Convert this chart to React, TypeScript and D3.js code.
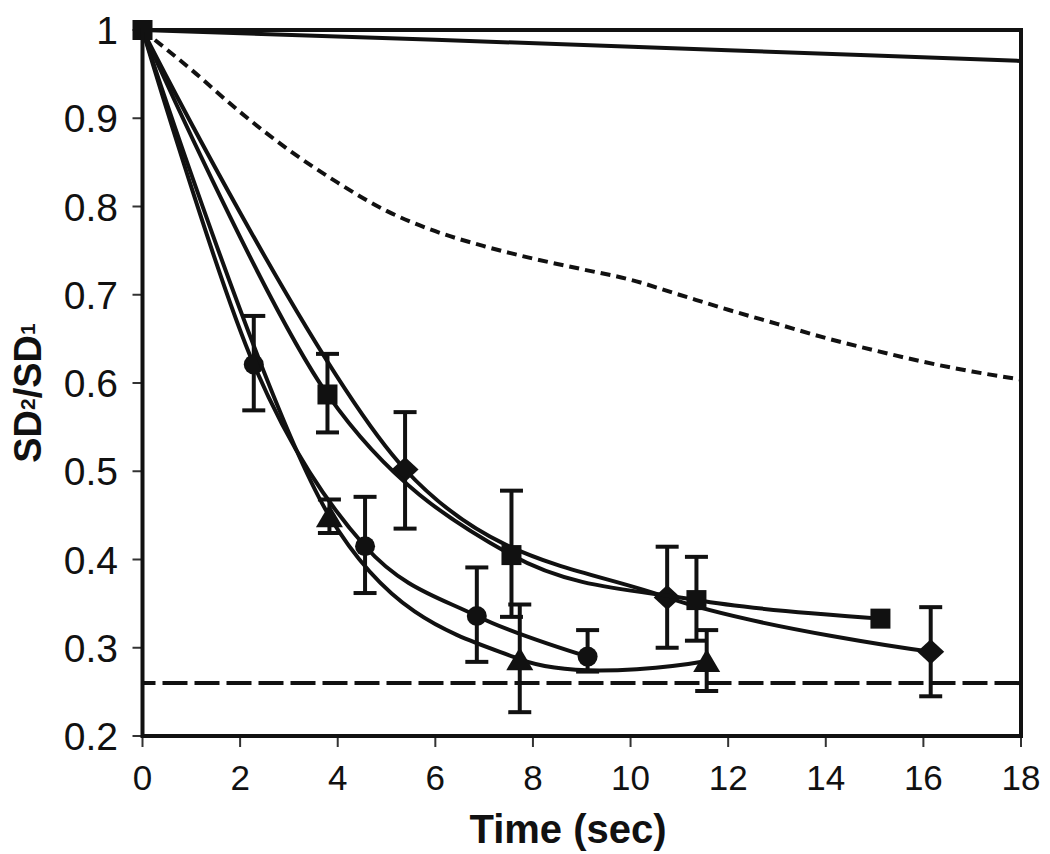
import * as d3 from 'd3';

// axis ticks
const xTicks = [0, 2, 4, 6, 8, 10, 12, 14, 16, 18];
const yTicks = [1, 0.9, 0.8, 0.7, 0.6, 0.5, 0.4, 0.3, 0.2];
const yTickLabels = ['1', '0.9', '0.8', '0.7', '0.6', '0.5', '0.4', '0.3', '0.2'];

// reference curves (no markers)
const upperTime = [0, 6, 12, 18];
const upperVal = [1, 0.989, 0.977, 0.965];

const dottedTime = [0, 1, 2, 3, 4, 5, 6, 7, 8, 9, 10, 11, 12, 13, 14, 15, 16, 17, 18];
const dottedVal = [1, 0.955, 0.907, 0.864, 0.827, 0.795, 0.772, 0.755, 0.741, 0.729, 0.717, 0.7, 0.683, 0.667, 0.651, 0.637, 0.624, 0.613, 0.604];

const floorTime = [0, 18];
const floorVal = [0.26, 0.26];

// measured series (null = no error bar / no marker at origin)
const circleTime = [0, 2.28, 4.56, 6.85, 9.12];
const circleVal = [1, 0.621, 0.415, 0.336, 0.29];
const circleHi = [null, 0.676, 0.471, 0.391, 0.32];
const circleLo = [null, 0.569, 0.362, 0.284, 0.273];

const triTime = [0, 3.83, 7.73, 11.56];
const triVal = [1, 0.449, 0.287, 0.285];
const triHi = [null, 0.468, 0.349, 0.32];
const triLo = [null, 0.43, 0.227, 0.251];

const squareTime = [0, 3.79, 7.56, 11.35, 15.12];
const squareVal = [1, 0.587, 0.405, 0.354, 0.333];
const squareHi = [null, 0.633, 0.478, 0.403, null];
const squareLo = [null, 0.544, 0.335, 0.308, null];

const diamondTime = [0, 5.38, 10.75, 16.15];
const diamondVal = [1, 0.502, 0.357, 0.2955];
const diamondHi = [null, 0.567, 0.4145, 0.346];
const diamondLo = [null, 0.435, 0.3, 0.245];

type Pt = { t: number; v: number; hi: number | null; lo: number | null };

const zip = (t: number[], v: number[], hi?: (number | null)[], lo?: (number | null)[]): Pt[] =>
  t.map((d, i) => ({ t: d, v: v[i], hi: hi ? hi[i] : null, lo: lo ? lo[i] : null }));

const series = [
  { shape: 'circle', pts: zip(circleTime, circleVal, circleHi, circleLo), markFirst: false },
  { shape: 'triangle', pts: zip(triTime, triVal, triHi, triLo), markFirst: false },
  { shape: 'diamond', pts: zip(diamondTime, diamondVal, diamondHi, diamondLo), markFirst: false },
  { shape: 'square', pts: zip(squareTime, squareVal, squareHi, squareLo), markFirst: true },
];

const W = 1050;
const H = 854;
const left = 142.5, right = 1021, top = 30, bottom = 736;
const ink = '#111';
const font = '"Liberation Sans", Arial, sans-serif';

export default function App() {
  const x = d3.scaleLinear().domain([0, 18]).range([left, right]);
  const y = d3.scaleLinear().domain([0.2, 1]).range([bottom, top]);

  const smooth = d3.line<Pt>().x(d => x(d.t)).y(d => y(d.v)).curve(d3.curveCardinal.tension(0));
  const straight = d3.line<Pt>().x(d => x(d.t)).y(d => y(d.v)).curve(d3.curveMonotoneX);

  const marker = (shape: string, cx: number, cy: number, key: string) => {
    if (shape === 'circle') return <circle key={key} cx={cx} cy={cy} r={10} fill={ink} />;
    if (shape === 'square') return <rect key={key} x={cx - 10} y={cy - 10} width={20} height={20} fill={ink} />;
    if (shape === 'diamond')
      return <path key={key} d={`M${cx},${cy - 12.5}L${cx + 13.5},${cy}L${cx},${cy + 12.5}L${cx - 13.5},${cy}Z`} fill={ink} />;
    return <path key={key} d={`M${cx},${cy - 12}L${cx + 13.5},${cy + 11}L${cx - 13.5},${cy + 11}Z`} fill={ink} />;
  };

  return (
    <svg width={W} height={H} style={{ position: 'absolute', left: 0, top: 0, background: '#fff' }}>
      {/* ticks */}
      {yTicks.map(t => (
        <line key={'yt' + t} x1={left - 10} x2={left} y1={y(t)} y2={y(t)} stroke="#333" strokeWidth={2} />
      ))}
      {xTicks.map(t => (
        <line key={'xt' + t} x1={x(t)} x2={x(t)} y1={bottom} y2={bottom + 11} stroke="#333" strokeWidth={2} />
      ))}
      {yTicks.map((t, i) => (
        <text key={'yl' + t} x={118} y={y(t)} dy="0.36em" textAnchor="end" fontFamily={font} fontSize={39} fill={ink}>
          {yTickLabels[i]}
        </text>
      ))}
      {xTicks.map(t => (
        <text key={'xl' + t} x={x(t)} y={790} textAnchor="middle" fontFamily={font} fontSize={35} fill={ink}>
          {t}
        </text>
      ))}

      {/* reference lines */}
      <path d={straight(zip(upperTime, upperVal)) || ''} fill="none" stroke={ink} strokeWidth={4} />
      <path d={straight(zip(dottedTime, dottedVal)) || ''} fill="none" stroke={ink} strokeWidth={4} strokeDasharray="10 6" />
      <path d={straight(zip(floorTime, floorVal)) || ''} fill="none" stroke={ink} strokeWidth={4} strokeDasharray="25 7" strokeDashoffset={-20} />

      {/* measured series */}
      {series.map(s => (
        <g key={s.shape}>
          <path d={smooth(s.pts) || ''} fill="none" stroke={ink} strokeWidth={4} />
          {s.pts.map((p, i) =>
            p.hi != null && p.lo != null ? (
              <g key={i} stroke={ink} strokeWidth={4}>
                <line x1={x(p.t)} x2={x(p.t)} y1={y(p.hi)} y2={y(p.lo)} />
                <line x1={x(p.t) - 11.5} x2={x(p.t) + 11.5} y1={y(p.hi)} y2={y(p.hi)} />
                <line x1={x(p.t) - 11.5} x2={x(p.t) + 11.5} y1={y(p.lo)} y2={y(p.lo)} />
              </g>
            ) : null
          )}
          {s.pts.map((p, i) => (i === 0 && !s.markFirst ? null : marker(s.shape, x(p.t), y(p.v), s.shape + i)))}
        </g>
      ))}

      {/* frame */}
      <rect x={left} y={top} width={right - left} height={bottom - top} fill="none" stroke={ink} strokeWidth={4} />

      {/* axis titles */}
      <text x={568} y={843} textAnchor="middle" fontFamily={font} fontSize={40} fontWeight="bold" fill={ink}>
        Time (sec)
      </text>
      <text transform="translate(41,393) rotate(-90)" textAnchor="middle" fontFamily={font} fontSize={38} fontWeight="bold" fill={ink}>
        SD<tspan fontSize={21} dy={-6}>2</tspan>
        <tspan dy={6}>/SD</tspan>
        <tspan fontSize={21} dy={-6}>1</tspan>
      </text>
    </svg>
  );
}
